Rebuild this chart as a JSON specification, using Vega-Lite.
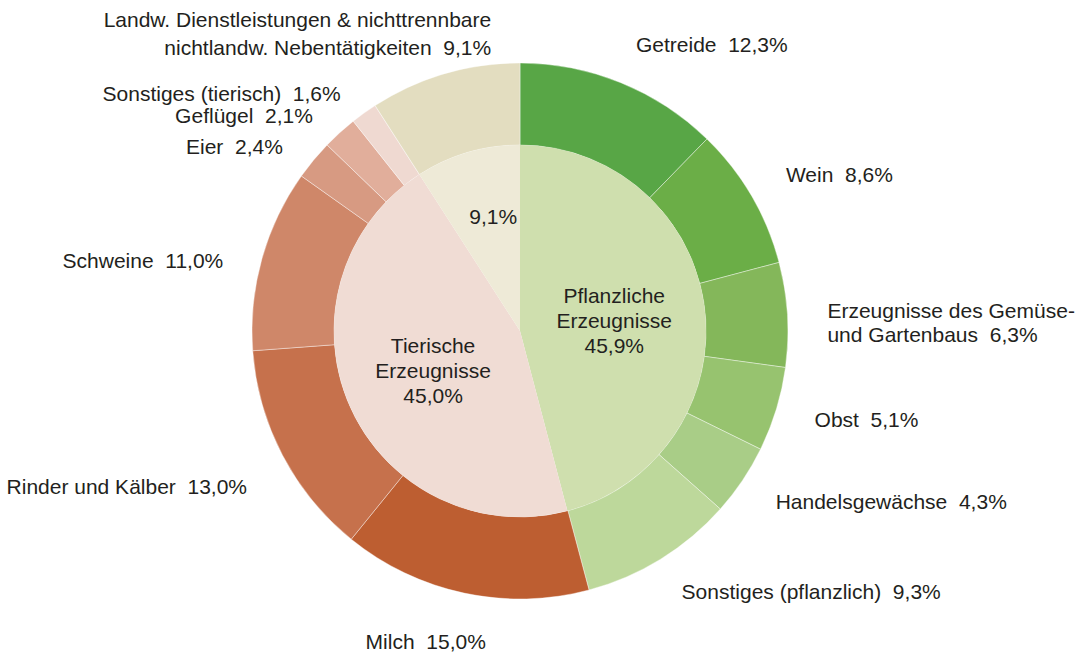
{
  "$schema": "https://vega.github.io/schema/vega-lite/v6.json",
  "autosize": {"type": "none"},
  "width": 1040,
  "height": 644,
  "padding": {"left": 0, "top": 9, "right": 40, "bottom": 0},
  "background": "#ffffff",
  "config": {"view": {"stroke": null}, "text": {"font": "Liberation Sans", "fontSize": 21, "color": "#231f20"}},
  "datasets": {
    "outer": [
      {"idx": 1, "name": "Getreide", "value": 12.3, "side": "R", "label": "Getreide\u00a0 12,3%"},
      {"idx": 2, "name": "Wein", "value": 8.6, "side": "R", "label": "Wein\u00a0 8,6%"},
      {"idx": 3, "name": "Gemüse", "value": 6.3, "side": "R", "label": "Erzeugnisse des Gemüse-\nund Gartenbaus\u00a0 6,3%"},
      {"idx": 4, "name": "Obst", "value": 5.1, "side": "R", "label": "Obst\u00a0 5,1%"},
      {"idx": 5, "name": "Handelsgewächse", "value": 4.3, "side": "R", "label": "Handelsgewächse\u00a0 4,3%"},
      {"idx": 6, "name": "Sonstiges (pflanzlich)", "value": 9.3, "side": "R", "label": "Sonstiges (pflanzlich)\u00a0 9,3%"},
      {"idx": 7, "name": "Milch", "value": 15.0, "side": "C", "label": "Milch\u00a0 15,0%"},
      {"idx": 8, "name": "Rinder und Kälber", "value": 13.0, "side": "L", "label": "Rinder und Kälber\u00a0 13,0%"},
      {"idx": 9, "name": "Schweine", "value": 11.0, "side": "L", "label": "Schweine\u00a0 11,0%"},
      {"idx": 10, "name": "Eier", "value": 2.4, "side": "L", "label": "Eier\u00a0 2,4%"},
      {"idx": 11, "name": "Geflügel", "value": 2.1, "side": "L", "label": "Geflügel\u00a0 2,1%"},
      {"idx": 12, "name": "Sonstiges (tierisch)", "value": 1.6, "side": "L", "label": "Sonstiges (tierisch)\u00a0 1,6%"},
      {"idx": 13, "name": "Landw. Dienstleistungen", "value": 9.1, "side": "T", "label": "Landw. Dienstleistungen & nichttrennbare\nnichtlandw. Nebentätigkeiten\u00a0 9,1%"}
    ],
    "inner": [
      {"idx": 1, "name": "Pflanzliche Erzeugnisse", "value": 45.9, "label": "Pflanzliche\nErzeugnisse\n45,9%"},
      {"idx": 2, "name": "Tierische Erzeugnisse", "value": 45.0, "label": "Tierische\nErzeugnisse\n45,0%"},
      {"idx": 3, "name": "Dienstleistungen", "value": 9.1, "label": "9,1%"}
    ]
  },
  "layer": [
    {
      "data": {"name": "outer"},
      "layer": [
        {
          "mark": {"type": "arc", "outerRadius": 268, "innerRadius": 186, "stroke": "#ffffff", "strokeWidth": 0.4},
          "encoding": {
            "theta": {"field": "value", "type": "quantitative", "stack": "normalize"},
            "order": {"field": "idx", "type": "quantitative"},
            "color": {
              "field": "name", "type": "nominal", "legend": null,
              "scale": {
                "domain": ["Getreide", "Wein", "Gemüse", "Obst", "Handelsgewächse", "Sonstiges (pflanzlich)", "Milch", "Rinder und Kälber", "Schweine", "Eier", "Geflügel", "Sonstiges (tierisch)", "Landw. Dienstleistungen"],
                "range": ["#58a646", "#6bae47", "#84b75a", "#97c36f", "#a9cd87", "#bdd89b", "#bd5e31", "#c6714c", "#cf8769", "#d79a82", "#e1ae9b", "#efd9d1", "#e3ddc0"]
              }
            }
          }
        },
        {
          "mark": {"type": "text", "radius": 308, "align": "left", "baseline": "middle", "lineBreak": "\n", "lineHeight": 24},
          "encoding": {
            "theta": {"field": "value", "type": "quantitative", "stack": "normalize"},
            "order": {"field": "idx", "type": "quantitative"},
            "text": {"condition": {"test": "datum.side === 'R'", "field": "label"}, "value": ""}
          }
        },
        {
          "mark": {"type": "text", "radius": 308, "align": "right", "baseline": "middle", "dy": 14},
          "encoding": {
            "theta": {"field": "value", "type": "quantitative", "stack": "normalize"},
            "order": {"field": "idx", "type": "quantitative"},
            "text": {"condition": {"test": "datum.side === 'L'", "field": "label"}, "value": ""}
          }
        },
        {
          "mark": {"type": "text", "radius": 308, "align": "right", "baseline": "middle", "lineBreak": "\n", "lineHeight": 28, "dx": 58, "dy": -14},
          "encoding": {
            "theta": {"field": "value", "type": "quantitative", "stack": "normalize"},
            "order": {"field": "idx", "type": "quantitative"},
            "text": {"condition": {"test": "datum.side === 'T'", "field": "label"}, "value": ""}
          }
        },
        {
          "mark": {"type": "text", "radius": 308, "align": "center", "baseline": "middle", "dx": -30, "dy": 11},
          "encoding": {
            "theta": {"field": "value", "type": "quantitative", "stack": "normalize"},
            "order": {"field": "idx", "type": "quantitative"},
            "text": {"condition": {"test": "datum.side === 'C'", "field": "label"}, "value": ""}
          }
        }
      ]
    },
    {
      "data": {"name": "inner"},
      "layer": [
        {
          "mark": {"type": "arc", "outerRadius": 186, "innerRadius": 0},
          "encoding": {
            "theta": {"field": "value", "type": "quantitative", "stack": "normalize"},
            "order": {"field": "idx", "type": "quantitative"},
            "color": {
              "field": "name", "type": "nominal", "legend": null,
              "scale": {
                "domain": ["Pflanzliche Erzeugnisse", "Tierische Erzeugnisse", "Dienstleistungen"],
                "range": ["#cfdfae", "#f0dcd4", "#eeead7"]
              }
            }
          }
        },
        {
          "mark": {"type": "text", "radius": 95, "align": "center", "baseline": "middle", "lineBreak": "\n", "lineHeight": 25, "dy": -22},
          "encoding": {
            "theta": {"field": "value", "type": "quantitative", "stack": "normalize"},
            "order": {"field": "idx", "type": "quantitative"},
            "text": {"field": "label"}
          }
        }
      ]
    }
  ],
  "resolve": {"scale": {"theta": "independent", "color": "independent"}}
}
